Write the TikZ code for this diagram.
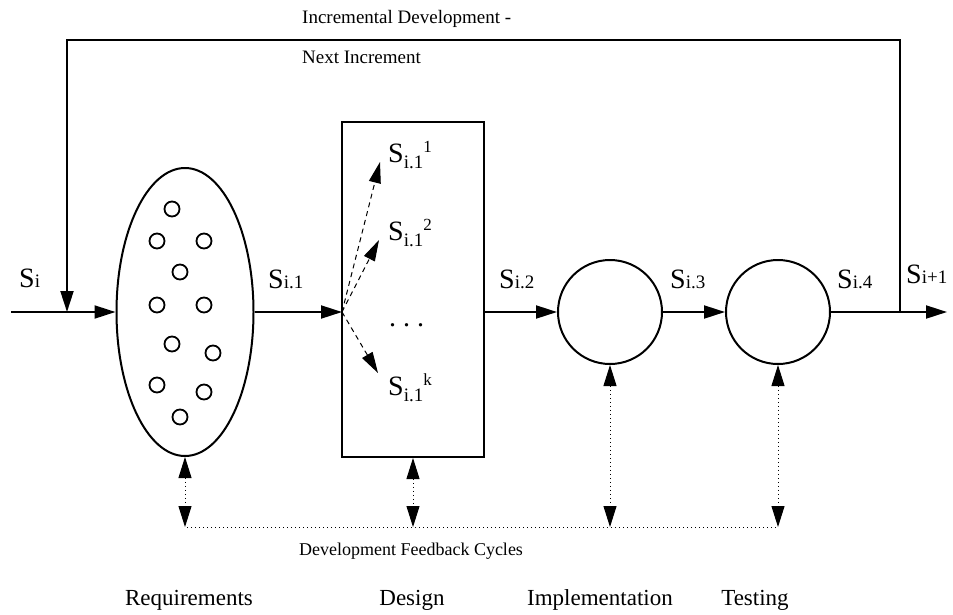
\documentclass[tikz,border=0pt]{standalone}
\usepackage{fontspec}
\setmainfont{Liberation Serif}
\usetikzlibrary{arrows.meta,shapes.geometric}
\newcommand\Slab[1]{{\fontsize{28}{28}\selectfont S}{\fontsize{19}{19}\selectfont #1}}
\newcommand\Sdes[1]{{\fontsize{28}{28}\selectfont S}\raisebox{-6pt}{\fontsize{19}{19}\selectfont i.1}\raisebox{10pt}{\fontsize{17}{17}\selectfont #1}}
\tikzset{
  arr/.style={line width=2pt,-{Triangle[length=21pt,width=13pt]}},
  plain/.style={line width=2pt},
  dasharr/.style={line width=1pt,dash pattern=on 5pt off 4pt,-{Triangle[length=21pt,width=12pt]}},
  dotarr/.style={line width=1pt,dash pattern=on 1pt off 3pt,{Triangle[length=21pt,width=13pt]}-{Triangle[length=21pt,width=13pt]}},
  dotline/.style={line width=1pt,dash pattern=on 1pt off 3pt},
  dot/.style={circle,draw,line width=1.8pt,minimum size=15pt,inner sep=0pt},
  lab/.style={anchor=base west,inner sep=0pt},
  small/.style={font=\fontsize{18}{18}\selectfont,inner sep=0pt},
  big/.style={font=\fontsize{23}{23}\selectfont,inner sep=0pt,anchor=base},
}
\begin{document}
\begin{tikzpicture}[x=1pt,y=-1pt]
\useasboundingbox (0,0) rectangle (953,614);
% main blocks
\node[ellipse,draw,line width=2pt,minimum width=137pt,minimum height=288pt,inner sep=0pt] (req) at (185,312) {};
\node[draw,line width=2pt,minimum width=142pt,minimum height=335pt,inner sep=0pt] (des) at (413,289.5) {};
\node[circle,draw,line width=2pt,minimum size=104pt,inner sep=0pt] (impl) at (610,312) {};
\node[circle,draw,line width=2pt,minimum size=104pt,inner sep=0pt] (test) at (778,312) {};
% small circles in requirements
\node[dot] (c1) at (172,209) {};
\node[dot] (c2) at (157,241) {};
\node[dot] (c3) at (204,241) {};
\node[dot] (c4) at (180,272) {};
\node[dot] (c5) at (157,305) {};
\node[dot] (c6) at (204,305) {};
\node[dot] (c7) at (172,344) {};
\node[dot] (c8) at (213,353) {};
\node[dot] (c9) at (157,385) {};
\node[dot] (c10) at (204,392) {};
\node[dot] (c11) at (180,417) {};
% coordinates
\coordinate (start) at (11,312);
\coordinate (inL) at (67,312);
\coordinate (tl) at (67,40);
\coordinate (tr) at (900,40);
\coordinate (outR) at (900,312);
\coordinate (endp) at (947,312);
\coordinate (fork) at (342,312);
\coordinate (desout) at (484,312);
\coordinate (t1) at (380,162);
\coordinate (t2) at (379,240);
\coordinate (t3) at (378,373);
\coordinate (fb1) at (187,527);
\coordinate (fb4) at (779,527);
% main flow
\draw[arr] (start) -- (req.west);
\draw[arr] (req.east) -- (fork);
\draw[arr] (desout) -- (impl.west);
\draw[arr] (impl.east) -- (test.west);
\draw[plain] (test.east) -- (outR);
\draw[arr] (outR) -- (endp);
\draw[arr] (outR) -- (tr) -- (tl) -- (inL);
% design fan-out
\draw[dasharr] (fork) -- (t1);
\draw[dasharr] (fork) -- (t2);
\draw[dasharr] (fork) -- (t3);
% labels on flow
\node[lab] (li) at (19,287) {\Slab{i}};
\node[lab] (li1) at (268,288) {\Slab{i.1}};
\node[lab] (li2) at (499,288) {\Slab{i.2}};
\node[lab] (li3) at (670,288) {\Slab{i.3}};
\node[lab] (li4) at (837,288) {\Slab{i.4}};
\node[lab] (lin) at (906,283) {\Slab{i+1}};
\node[lab] (d1) at (388,162) {\Sdes{1}};
\node[lab] (d2) at (388,240) {\Sdes{2}};
\node[lab] (dd) at (389,326) {\fontsize{28}{28}\selectfont .\hspace{7pt}.\hspace{7pt}.};
\node[lab] (dk) at (388,395) {\Sdes{k}};
% top texts
\node[small,anchor=base west,font=\fontsize{19}{19}\selectfont] (inc1) at (302,23) {Incremental Development -};
\node[small,anchor=base west,font=\fontsize{19}{19}\selectfont] (inc2) at (302,63) {Next Increment};
% feedback
\draw[dotline] (fb1) -- (fb4);
\draw[dotarr] (req.south) -- (req.south |- fb1);
\draw[dotarr] (des.south) -- (des.south |- fb1);
\draw[dotarr] (impl.south) -- (impl.south |- fb1);
\draw[dotarr] (test.south) -- (test.south |- fb1);
\node[small,anchor=base] (fbt) at (411,555) {Development Feedback Cycles};
% phase labels
\node[big] (p1) at (189,605) {Requirements};
\node[big] (p2) at (412,605) {Design};
\node[big] (p3) at (600,605) {Implementation};
\node[big] (p4) at (755,605) {Testing};
\end{tikzpicture}
\end{document}
